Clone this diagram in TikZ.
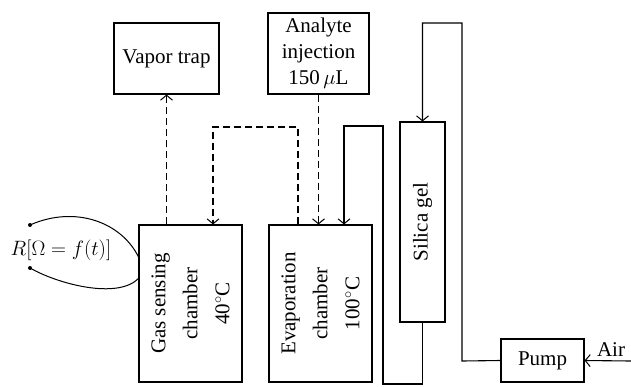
\documentclass[tikz,border=0pt]{standalone}
\usepackage{fontspec}
\setmainfont{Liberation Serif}
\usetikzlibrary{arrows.meta,calc}
\begin{document}
\begin{tikzpicture}[x=1pt,y=-1pt,
  every node/.style={font=\fontsize{21}{26}\selectfont},
  box/.style={draw,line width=1.1pt,inner sep=0pt,align=center},
  conn/.style={line width=1.1pt},
  dconn/.style={line width=1.1pt,dash pattern=on 7pt off 4pt},
  tip/.style={-{Straight Barb[length=5pt,width=12pt,line width=1pt]}},
  rottext/.style={rotate=90,align=center,font=\fontsize{21}{32}\selectfont}]
\useasboundingbox (0,0) rectangle (631,386);
% boxes
\node[box,minimum width=105pt,minimum height=71pt] (vapor) at (166.5,58.5) {Vapor trap};
\node[box,minimum width=101pt,minimum height=81pt] (analyte) at (318.5,53.5) {Analyte\\injection\\150\,$\mu$L};
\node[box,minimum width=103pt,minimum height=157pt] (gas) at (190.5,303.5) {};
\node[rottext] (gastext) at (gas.center) {Gas sensing\\chamber\\40$^\circ$C};
\node[box,minimum width=103pt,minimum height=157pt] (evap) at (320.5,303.5) {};
\node[rottext] (evaptext) at (evap.center) {Evaporation\\chamber\\100$^\circ$C};
\node[box,minimum width=45pt,minimum height=200pt] (silica) at (422.5,222) {};
\node[rottext] (silicatext) at (silica.center) {Silica gel};
\node[box,minimum width=83pt,minimum height=43pt] (pump) at (542.5,360.5) {Pump};
% coordinates
\coordinate (dl) at (213,127);
\coordinate (dr) at (298,127);
\coordinate (s1) at (344,126);
\coordinate (s2) at (383,126);
\coordinate (s3) at (383,384);
\coordinate (s4) at (422.5,384);
\coordinate (p1) at (462,361);
\coordinate (p2) at (462,23);
\coordinate (p3) at (422.5,23);
\coordinate (air) at (631,361);
\coordinate (ra) at (30,225);
\coordinate (rb) at (30,268);
\coordinate (ga) at (139,258);
\coordinate (gb) at (139,278);
% dashed connectors
\draw[dconn,tip] (gas.north -| vapor.south) -- (vapor.south);
\draw[dconn,tip] (evap.north -| dr) -- (dr) -- (dl) -- (gas.north -| dl);
\draw[dconn,tip] (analyte.south) -- (evap.north -| analyte.south);
% solid connectors
\draw[conn,tip] (silica.south) -- (s4) -- (s3) -- (s2) -- (s1) -- (evap.north -| s1);
\draw[conn,tip] (pump.west) -- (p1) -- (p2) -- (p3) -- (silica.north);
\draw[conn,tip] (air) -- (pump.east);
\node[anchor=south] (airlbl) at (611,360) {Air};
% resistance
\fill (ra) circle (2pt) (rb) circle (2pt);
\draw[line width=1pt] (ra) .. controls (75,205) and (122,222) .. (ga);
\draw[line width=1pt] (rb) .. controls (58,284) and (118,300) .. (gb);
\node (rlabel) at (61,250) {$R[\Omega = f(t)]$};
\end{tikzpicture}
\end{document}
